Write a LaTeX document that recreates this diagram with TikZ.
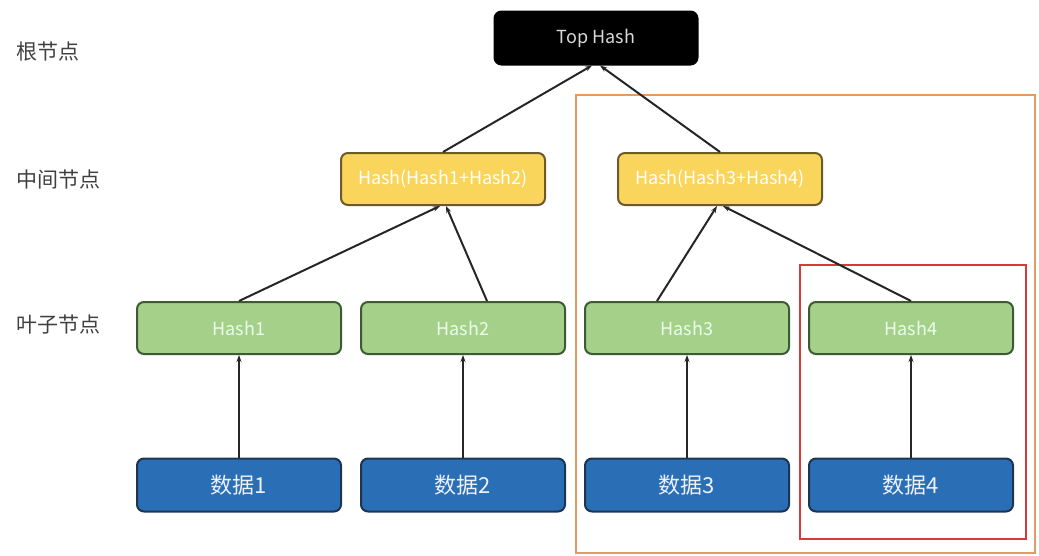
\documentclass[tikz,border=0pt]{standalone}
\usepackage{fontspec}
\setmainfont{Noto Sans CJK SC}
\usetikzlibrary{arrows.meta}
\definecolor{rootfill}{HTML}{000000}
\definecolor{midfill}{HTML}{FAD55C}
\definecolor{midline}{HTML}{6B5A2A}
\definecolor{leaffill}{HTML}{A5D08A}
\definecolor{leafline}{HTML}{3E5A34}
\definecolor{datafill}{HTML}{2A6EB5}
\definecolor{dataline}{HTML}{1E3552}
\definecolor{orangebox}{HTML}{E59A62}
\definecolor{redbox}{HTML}{D63B3B}

\begin{document}
\begin{tikzpicture}[x=1pt, y=-1pt,
    box/.style={draw, line width=2pt, rounded corners=7pt, minimum width=204pt, minimum height=52pt, inner sep=0pt, font=\fontsize{18}{20}\selectfont},
    rootbox/.style={box, fill=rootfill, draw=black, text=white!85!black, minimum width=203pt, minimum height=53pt},
    midbox/.style={box, fill=midfill, draw=midline, text=white},
    leafbox/.style={box, fill=leaffill, draw=leafline, text=green!8!white},
    databox/.style={box, fill=datafill, draw=dataline, text=blue!6!white, minimum height=53pt, font=\fontsize{22}{24}\selectfont},
    level/.style={anchor=west, text=black!75, font=\fontsize{21}{23}\selectfont},
    edge/.style={-{Stealth[length=7pt, width=5pt]}, line width=2pt, black!85}]
    \useasboundingbox (0,0) rectangle (1039,555);

    % group frames
    \draw[orangebox, line width=2.4pt] (576,95) rectangle (1035,553);
    \draw[redbox, line width=2.8pt] (800,265) rectangle (1026,539);

    % level names
    \node[level] (lroot) at (13,52) {根节点};
    \node[level] (lmid) at (13,180) {中间节点};
    \node[level] (lleaf) at (13,325) {叶子节点};

    % tree
    \node[rootbox] (top) at (596,38) {Top Hash};
    \node[midbox] (m12) at (443,179) {Hash(Hash1+Hash2)};
    \node[midbox] (m34) at (720,179) {Hash(Hash3+Hash4)};

    \node[leafbox] (h1) at (239,328) {Hash1};
    \node[leafbox] (h2) at (463,328) {Hash2};
    \node[leafbox] (h3) at (687,328) {Hash3};
    \node[leafbox] (h4) at (911,328) {Hash4};

    \node[databox] (d1) at (239,485) {数据1};
    \node[databox] (d2) at (463,485) {数据2};
    \node[databox] (d3) at (687,485) {数据3};
    \node[databox] (d4) at (911,485) {数据4};

    \draw[edge] (d1.north) -- (h1.south);
    \draw[edge] (d2.north) -- (h2.south);
    \draw[edge] (d3.north) -- (h3.south);
    \draw[edge] (d4.north) -- (h4.south);

    \draw[edge] (h1.north) -- ([xshift=-3pt]m12.south);
    \draw[edge] ([xshift=24pt]h2.north) -- ([xshift=3pt]m12.south);
    \draw[edge] ([xshift=-30pt]h3.north) -- ([xshift=-3pt]m34.south);
    \draw[edge] (h4.north) -- ([xshift=3pt]m34.south);

    \draw[edge] (m12.north) -- ([xshift=-4pt]top.south);
    \draw[edge] (m34.north) -- ([xshift=4pt]top.south);
\end{tikzpicture}
\end{document}
